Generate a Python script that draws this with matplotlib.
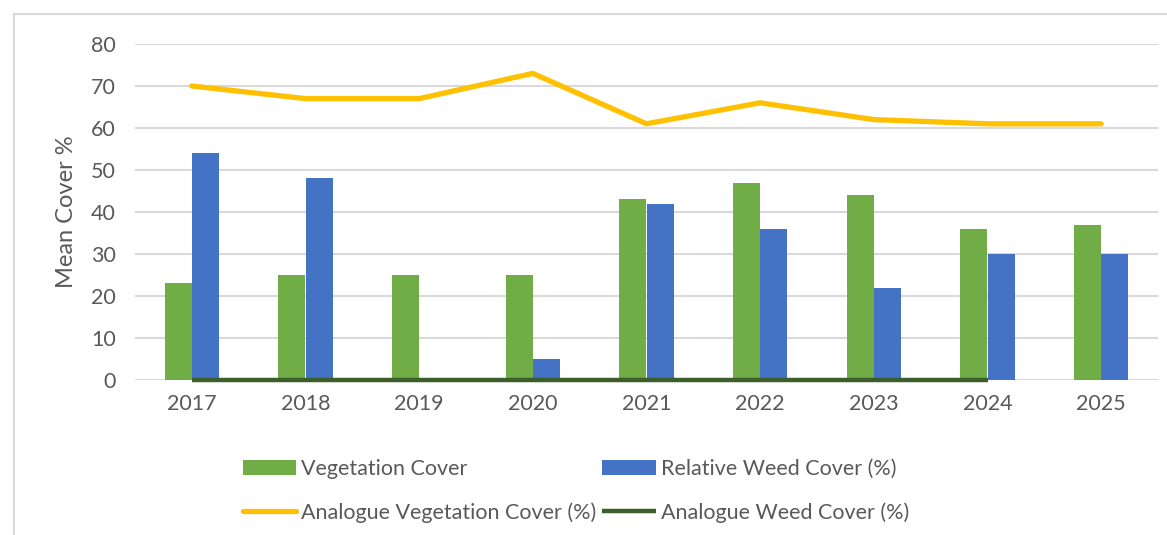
import matplotlib.pyplot as plt
import numpy as np
from matplotlib.lines import Line2D

plt.rcParams['font.family'] = ['Lato', 'DejaVu Sans']

years = ['2017', '2018', '2019', '2020', '2021', '2022', '2023', '2024', '2025']
veg_cover = [23, 25, 25, 25, 43, 47, 44, 36, 37]
weed_cover = [54, 48, 0, 5, 42, 36, 22, 30, 30]
analogue_veg = [70, 67, 67, 73, 61, 66, 62, 61, 61]
analogue_weed = [0, 0, 0, 0, 0, 0, 0, 0, np.nan]

text_col = '#595959'

fig = plt.figure(figsize=(11.67, 5.35), dpi=100)
ax = fig.add_axes([135 / 1167, 1 - 380 / 535, 1023 / 1167, 336 / 535])

x = np.arange(len(years))
w = 0.24
b1 = ax.bar(x - w / 2, veg_cover, w, color='#70AD47', lw=0, label='Vegetation Cover', zorder=2)
b2 = ax.bar(x + w / 2, weed_cover, w, color='#4472C4', lw=0, label='Relative Weed Cover (%)', zorder=2)
l1, = ax.plot(x, analogue_veg, color='#FFC000', lw=3.8, solid_capstyle='round',
              label='Analogue Vegetation Cover (%)', zorder=3)
l2, = ax.plot(x, analogue_weed, color='#3B5E2B', lw=3.2, solid_capstyle='butt',
              label='Analogue Weed Cover (%)', zorder=3, clip_on=False)

ax.set_xlim(-0.5, len(years) - 0.5)
ax.set_ylim(0, 80)
ax.set_yticks(range(0, 81, 10))
ax.set_xticks(x)
ax.set_xticklabels(years)
ax.yaxis.grid(True, color='#D9D9D9', lw=1.5, zorder=0)
ax.set_axisbelow(True)
for s in ax.spines.values():
    s.set_visible(False)
ax.tick_params(length=0, labelsize=15.5, colors=text_col, pad=10)
ax.tick_params(axis='y', pad=14)
ax.set_ylabel('Mean Cover %', fontsize=17, color=text_col, labelpad=10)

# chart border
fig.add_artist(Line2D([14 / 1167, 1.0], [1 - 14 / 535] * 2, color='#D9D9D9', lw=1.5))
fig.add_artist(Line2D([14 / 1167] * 2, [0.0, 1 - 14 / 535], color='#D9D9D9', lw=1.5))

# legend order: column-major fill, so interleave rows
fig.legend([b1, l1, b2, l2],
           ['Vegetation Cover', 'Analogue Vegetation Cover (%)',
            'Relative Weed Cover (%)', 'Analogue Weed Cover (%)'],
           ncol=2, loc='upper left',
           bbox_to_anchor=(234 / 1167, 1 - 450 / 535), frameon=False,
           fontsize=15.5, labelcolor=text_col, handlelength=2.5, handletextpad=0.2,
           columnspacing=0.3, labelspacing=1.1, borderaxespad=0)

fig.savefig('out.png', dpi=100)
